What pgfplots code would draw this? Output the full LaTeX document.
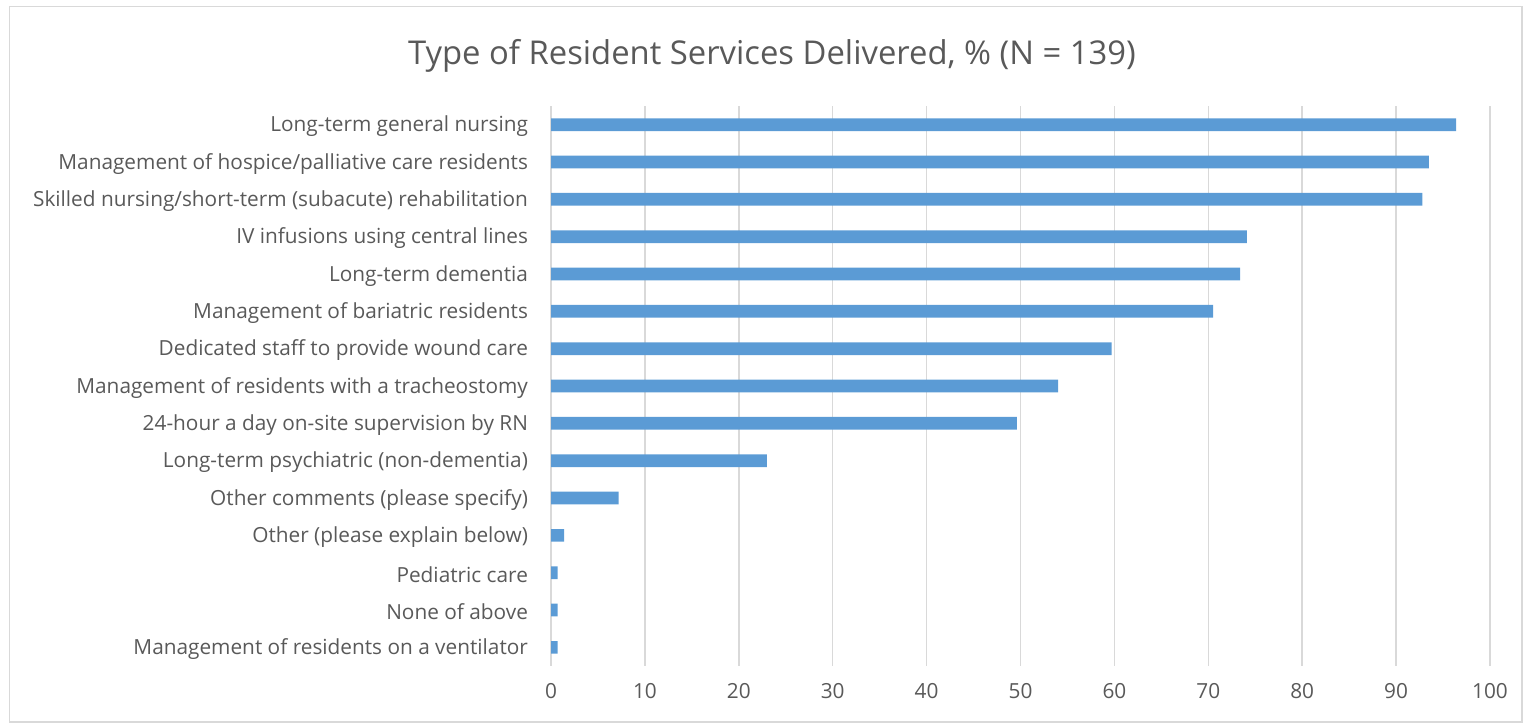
\documentclass[border=0pt]{standalone}
\usepackage{fontspec}
\setmainfont{Open Sans}
\usepackage{pgfplots}
\pgfplotsset{compat=1.18}
\definecolor{barblue}{HTML}{5B9BD5}
\definecolor{txtgray}{HTML}{595959}
\definecolor{gridgray}{HTML}{D9D9D9}
\begin{document}
\begin{tikzpicture}
% 1 px of the reference = 0.5pt
\useasboundingbox (0,0) rectangle (762.5pt,-361.5pt);
\draw[gridgray, line width=0.6pt] (4.75pt,-3.25pt) rectangle (761pt,-361pt);
\node[anchor=base, font=\fontsize{16.4}{20}\selectfont, text=txtgray, inner sep=0pt]
  at (386pt,-32pt) {Type of Resident Services Delivered, \% (N = 139)};
\begin{axis}[
  at={(275.5pt,-333pt)}, anchor=south west,
  scale only axis, width=469.5pt, height=280pt,
  xmin=0, xmax=100, ymin=-0.5, ymax=14.5,
  y dir=reverse,
  axis line style={draw=none},
  major tick length=0pt,
  xtick={0,10,...,100},
  ytick={0,...,14},
  yticklabels={
    Long-term general nursing,
    Management of hospice/palliative care residents,
    Skilled nursing/short-term (subacute) rehabilitation,
    IV infusions using central lines,
    Long-term dementia,
    Management of bariatric residents,
    Dedicated staff to provide wound care,
    Management of residents with a tracheostomy,
    24-hour a day on-site supervision by RN,
    Long-term psychiatric (non-dementia),
    Other comments (please specify),
    Other (please explain below),
    Pediatric care,
    None of above,
    Management of residents on a ventilator
  },
  xmajorgrids,
  grid style={gridgray, line width=0.75pt},
  ticklabel style={font=\fontsize{10.4}{12}\selectfont, text=txtgray},
  /pgf/number format/assume math mode=true,
  yticklabel style={xshift=-8pt, yshift=-0.8pt},
  xticklabel style={yshift=-5pt},
]
\addplot[xbar, bar width=6.35pt, fill=barblue, draw=none] coordinates {
  (96.4,0) (93.5,1) (92.8,2) (74.1,3) (73.4,4) (70.5,5) (59.7,6) (54.0,7)
  (49.6,8) (23.0,9) (7.2,10) (1.4,11) (0.7,12) (0.7,13) (0.7,14)
};
\end{axis}
\end{tikzpicture}
\end{document}
